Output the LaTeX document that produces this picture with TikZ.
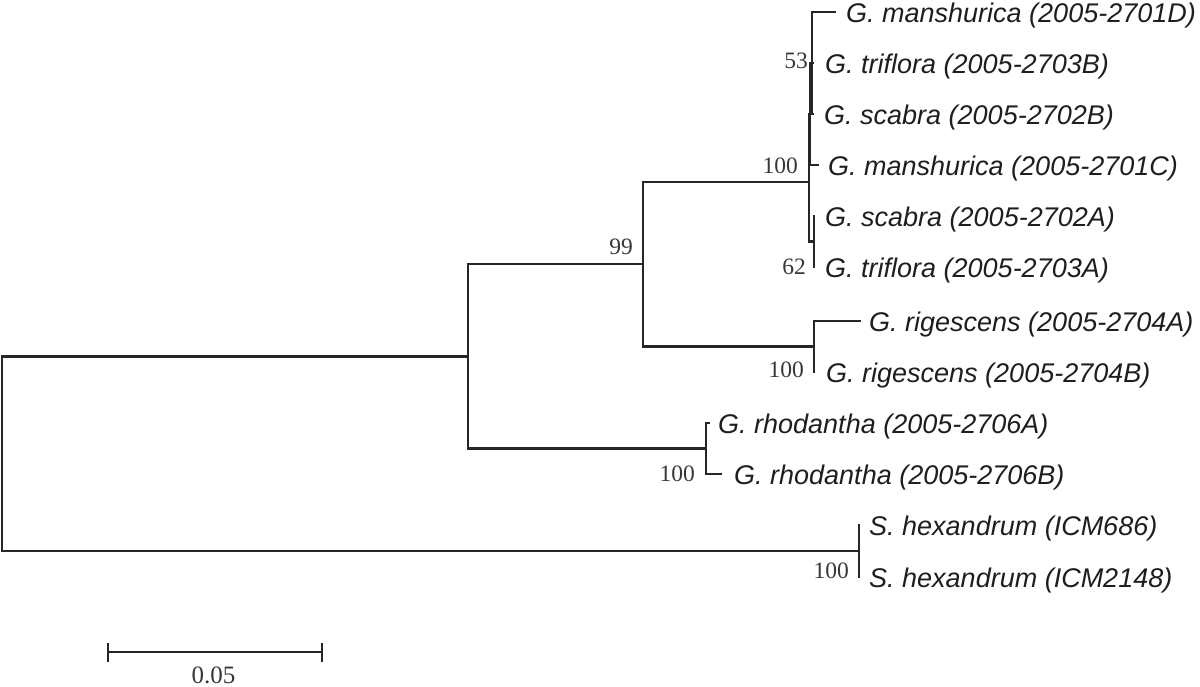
\documentclass[tikz,border=0pt]{standalone}
\usepackage{fontspec}
\setmainfont{Liberation Serif}
\newfontfamily\leaffont{Liberation Sans}
\usetikzlibrary{calc}
\definecolor{linec}{RGB}{38,38,38}
\definecolor{textc}{RGB}{30,30,30}
\definecolor{bootc}{RGB}{55,55,55}
\begin{document}
\begin{tikzpicture}[x=1pt,y=-1pt,
  br/.style={line width=2.3pt, draw=linec, line cap=rect},
  leaf/.style={font=\leaffont\itshape\fontsize{27}{30}\selectfont, anchor=base west, inner sep=0pt, text=textc},
  boot/.style={font=\fontsize{23.5}{26}\selectfont, anchor=base east, inner sep=0pt, text=bootc},
  scalelab/.style={font=\fontsize{25}{28}\selectfont, anchor=base, inner sep=0pt, text=bootc}]
\useasboundingbox (0,0) rectangle (1200,686);
% internal nodes
\coordinate (R)   at (2,454);
\coordinate (A)   at (468,356.5);
\coordinate (N99) at (643,264);
\coordinate (Big) at (809,182);
\coordinate (X)   at (810,114);
\coordinate (N53) at (812,63);
\coordinate (C62) at (814,241.5);
\coordinate (Rig) at (814,346.5);
\coordinate (Rho) at (706,448.5);
\coordinate (Hex) at (859,551);
% tips
\coordinate (tManD) at (835,12);
\coordinate (tTriB) at (813,63);
\coordinate (tScaB) at (813,114);
\coordinate (tManC) at (818,165);
\coordinate (tScaA) at (814,216);
\coordinate (tTriA) at (814,267);
\coordinate (tRigA) at (860,321);
\coordinate (tRigB) at (814,372);
\coordinate (tRhoA) at (709,423);
\coordinate (tRhoB) at (721,474);
\coordinate (tHexA) at (859,525);
\coordinate (tHexB) at (859,577);
% branches
\draw[br] (A) -| (R) |- (Hex);
\draw[br] (N99) -| (A) |- (Rho);
\draw[br] (Big) -| (N99) |- (Rig);
\draw[br] (X) -| (Big) |- (C62);
\draw[br] (N53) -| (X) |- (tManC);
\draw[br] (tManD) -| (N53) |- (tScaB);
\draw[br] (N53) -- (tTriB);
\draw[br] (tScaA) -- (tTriA);
\draw[br] (tRigA) -| (Rig) |- (tRigB);
\draw[br] (tRhoA) -| (Rho) |- (tRhoB);
\draw[br] (tHexA) -- (tHexB);
% leaf labels
\node[leaf] (lManD) at (846,22) {G. manshurica (2005-2701D)};
\node[leaf] (lTriB) at (825,73) {G. triflora (2005-2703B)};
\node[leaf] (lScaB) at (824,124) {G. scabra (2005-2702B)};
\node[leaf] (lManC) at (828,175) {G. manshurica (2005-2701C)};
\node[leaf] (lScaA) at (825,226) {G. scabra (2005-2702A)};
\node[leaf] (lTriA) at (825,277) {G. triflora (2005-2703A)};
\node[leaf] (lRigA) at (869,331) {G. rigescens (2005-2704A)};
\node[leaf] (lRigB) at (826,382) {G. rigescens (2005-2704B)};
\node[leaf] (lRhoA) at (718,433) {G. rhodantha (2005-2706A)};
\node[leaf] (lRhoB) at (734,484) {G. rhodantha (2005-2706B)};
\node[leaf] (lHexA) at (869,535) {S. hexandrum (ICM686)};
\node[leaf] (lHexB) at (869,587) {S. hexandrum (ICM2148)};
% bootstrap values
\node[boot] (b53)  at (808,68)  {53};
\node[boot] (b100a) at (798,173) {100};
\node[boot] (b62)  at (806,274) {62};
\node[boot] (b99)  at (633,254) {99};
\node[boot] (b100b) at (804,377) {100};
\node[boot] (b100c) at (695,481) {100};
\node[boot] (b100d) at (849,578) {100};
% scale bar
\coordinate (sbL) at (108,652);
\coordinate (sbR) at (322,652);
\draw[br, line cap=butt] (sbL) -- (sbR);
\draw[br, line cap=butt] ($(sbL)+(0,-9.5)$) -- ($(sbL)+(0,9.5)$);
\draw[br, line cap=butt] ($(sbR)+(0,-9.5)$) -- ($(sbR)+(0,9.5)$);
\node[scalelab] (sblab) at (213.5,683) {0.05};
\end{tikzpicture}
\end{document}
